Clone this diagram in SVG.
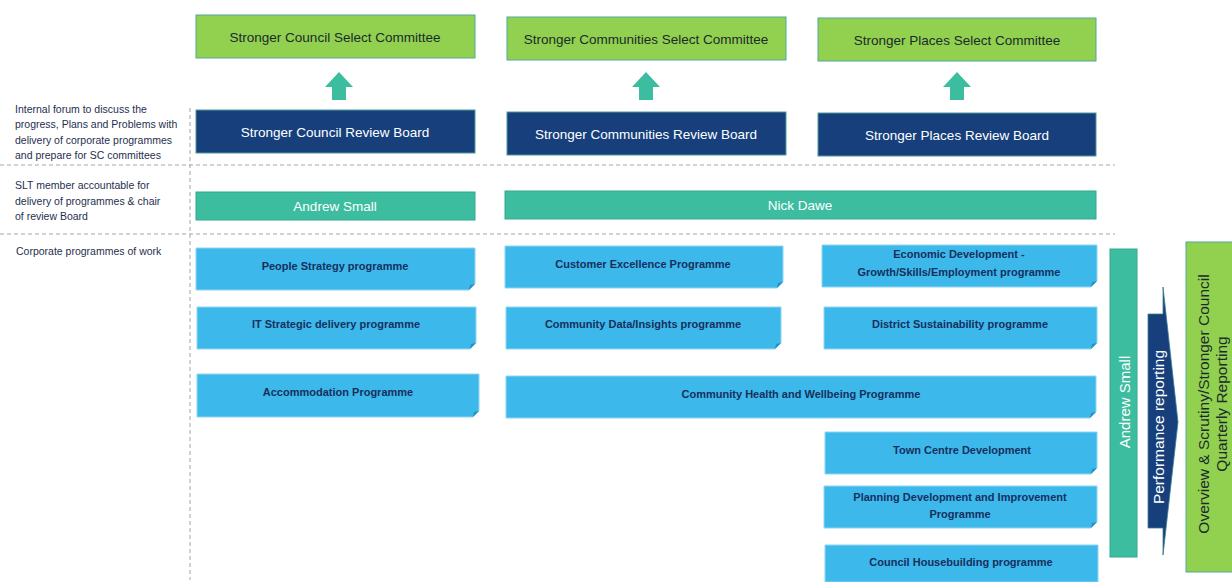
<svg xmlns="http://www.w3.org/2000/svg" width="1232" height="582" viewBox="0 0 1232 582">
<style>
  text{font-family:"Liberation Sans",Arial,sans-serif;}
  .sel{fill:#92d050;stroke:#4fa89a;stroke-width:1;}
  .brd{fill:#163f7c;stroke:#4f9a9a;stroke-width:1;}
  .tl{fill:#3dbd9f;stroke:#35a88c;stroke-width:1;}
  .prg{fill:#3db8ea;stroke:#8fd6f3;stroke-width:1;}
  .fold{fill:#2a8fbf;}
  .t-sel{font-size:13.5px;fill:#1a2b2b;text-anchor:middle;dominant-baseline:central;}
  .t-brd{font-size:13.5px;fill:#ffffff;text-anchor:middle;dominant-baseline:central;}
  .t-tl{font-size:13.5px;fill:#ffffff;text-anchor:middle;dominant-baseline:central;}
  .t-prg{font-size:11px;font-weight:bold;fill:#15305e;text-anchor:middle;dominant-baseline:central;}
  .t-lab{font-size:10.5px;fill:#1f2f4f;}
  .dash{stroke:#a6a6a6;stroke-width:1;stroke-dasharray:4 3;fill:none;}
  .up{fill:#3dbd9f;}
</style>
<defs>
  <path id="uparrow" d="M0,-15 L14,0 L7,0 L7,13 L-7,13 L-7,0 L-14,0 Z"/>
</defs>

<g id="guides">
  <line class="dash" x1="0" y1="165" x2="1115" y2="165"/>
  <line class="dash" x1="0" y1="234" x2="1115" y2="234"/>
  <line class="dash" x1="190" y1="108" x2="190" y2="580"/>
</g>

<g id="labels">
  <text class="t-lab" x="15" y="113">Internal forum to discuss the</text>
  <text class="t-lab" x="15" y="128">progress, Plans and Problems with</text>
  <text class="t-lab" x="15" y="144">delivery of corporate programmes</text>
  <text class="t-lab" x="15" y="159">and prepare for SC committees</text>
  <text class="t-lab" x="15" y="189">SLT member accountable for</text>
  <text class="t-lab" x="15" y="205">delivery of programmes  &amp; chair</text>
  <text class="t-lab" x="15" y="220">of review Board</text>
  <text class="t-lab" x="16" y="255">Corporate programmes of work</text>
</g>

<g id="sel-council"><rect class="sel" x="196" y="15" width="279" height="43"/><text class="t-sel" x="335" y="37">Stronger Council Select Committee</text></g>
<g id="sel-communities"><rect class="sel" x="507" y="17" width="279" height="43"/><text class="t-sel" x="646" y="39">Stronger Communities Select Committee</text></g>
<g id="sel-places"><rect class="sel" x="818" y="18" width="278" height="43"/><text class="t-sel" x="957" y="40">Stronger Places Select Committee</text></g>

<g id="connectors">
  <use href="#uparrow" class="up" x="339" y="87"/>
  <use href="#uparrow" class="up" x="646" y="87"/>
  <use href="#uparrow" class="up" x="957" y="87"/>
</g>

<g id="board-council"><rect class="brd" x="196" y="110" width="279" height="43"/><text class="t-brd" x="335" y="132">Stronger Council Review Board</text></g>
<g id="board-communities"><rect class="brd" x="507" y="112" width="279" height="43"/><text class="t-brd" x="646" y="134">Stronger Communities Review Board</text></g>
<g id="board-places"><rect class="brd" x="818" y="113" width="278" height="43"/><text class="t-brd" x="957" y="135">Stronger Places Review Board</text></g>

<g id="slt-andrew"><rect class="tl" x="196" y="192" width="279" height="28"/><text class="t-tl" x="335" y="206">Andrew Small</text></g>
<g id="slt-nick"><rect class="tl" x="505" y="191" width="591" height="28"/><text class="t-tl" x="800" y="205">Nick Dawe</text></g>

<g id="prog-people"><path class="prg" d="M196,248 H475 V284 L469,290 H196 Z"/><path class="fold" d="M475,284 L469,290 L470,285 Z"/><text class="t-prg" x="335" y="266">People Strategy programme</text></g>
<g id="prog-it"><path class="prg" d="M197,307 H476 V343 L470,349 H197 Z"/><path class="fold" d="M476,343 L470,349 L471,344 Z"/><text class="t-prg" x="336" y="324">IT Strategic delivery programme</text></g>
<g id="prog-accom"><path class="prg" d="M197,374 H479 V411 L473,417 H197 Z"/><path class="fold" d="M479,411 L473,417 L474,412 Z"/><text class="t-prg" x="338" y="392">Accommodation Programme</text></g>

<g id="prog-customer"><path class="prg" d="M505,246 H783 V282 L777,288 H505 Z"/><path class="fold" d="M783,282 L777,288 L778,283 Z"/><text class="t-prg" x="643" y="264">Customer Excellence Programme</text></g>
<g id="prog-data"><path class="prg" d="M506,307 H781 V343 L775,349 H506 Z"/><path class="fold" d="M781,343 L775,349 L776,344 Z"/><text class="t-prg" x="643" y="324">Community Data/Insights programme</text></g>
<g id="prog-health"><path class="prg" d="M506,376 H1096 V412 L1090,418 H506 Z"/><path class="fold" d="M1096,412 L1090,418 L1091,413 Z"/><text class="t-prg" x="801" y="394">Community Health and Wellbeing Programme</text></g>

<g id="prog-economic"><path class="prg" d="M822,245 H1097 V281 L1091,287 H822 Z"/><path class="fold" d="M1097,281 L1091,287 L1092,282 Z"/><text class="t-prg" x="959" y="254">Economic Development -</text><text class="t-prg" x="959" y="272">Growth/Skills/Employment programme</text></g>
<g id="prog-district"><path class="prg" d="M824,307 H1097 V343 L1091,349 H824 Z"/><path class="fold" d="M1097,343 L1091,349 L1092,344 Z"/><text class="t-prg" x="960" y="324">District Sustainability programme</text></g>
<g id="prog-town"><path class="prg" d="M825,432 H1097 V468 L1091,474 H825 Z"/><path class="fold" d="M1097,468 L1091,474 L1092,469 Z"/><text class="t-prg" x="962" y="450">Town Centre Development</text></g>
<g id="prog-planning"><path class="prg" d="M824,486 H1097 V522 L1091,528 H824 Z"/><path class="fold" d="M1097,522 L1091,528 L1092,523 Z"/><text class="t-prg" x="960" y="497">Planning Development and Improvement</text><text class="t-prg" x="960" y="514">Programme</text></g>
<g id="prog-housing"><path class="prg" d="M825,545 H1098 V582 H825 Z"/><text class="t-prg" x="961" y="562">Council Housebuilding programme</text></g>

<g id="andrew-vertical"><rect class="tl" x="1110" y="249" width="27" height="308"/><text class="t-tl" style="font-size:15px" transform="translate(1124,402) rotate(-90)" x="0" y="0">Andrew Small</text></g>

<g id="perf-arrow"><path fill="#163f7c" stroke="#3a7d8f" stroke-width="0.8" d="M1148,314 H1163 V287 L1178,422 L1163,555 V528 H1148 Z"/><text class="t-brd" style="font-size:15.5px" transform="translate(1158,427) rotate(-90)" x="0" y="0">Performance reporting</text></g>

<g id="overview"><rect class="sel" x="1186" y="242" width="50" height="330"/><text class="t-sel" style="font-size:15.5px" transform="translate(1203,404) rotate(-90)" x="0" y="0">Overview &amp; Scrutiny/Stronger Council</text><text class="t-sel" style="font-size:15.5px" transform="translate(1221,404) rotate(-90)" x="0" y="0">Quarterly Reporting</text></g>
</svg>
